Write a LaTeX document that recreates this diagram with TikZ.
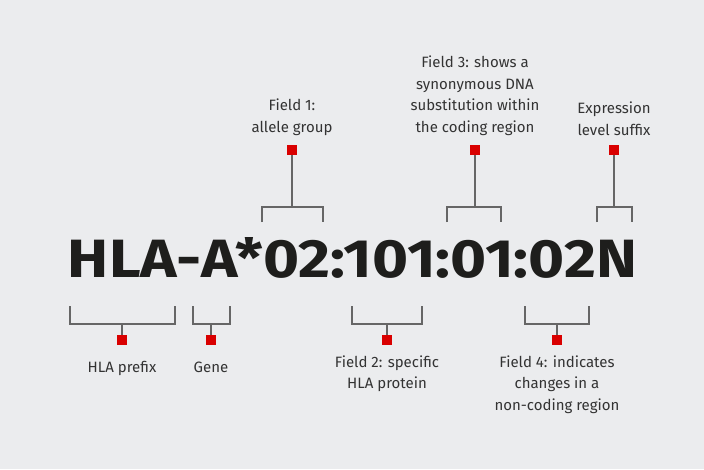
\documentclass[tikz,border=0pt]{standalone}
\usepackage{fontspec}
\setmainfont{Fira Sans}
\begin{document}
\begin{tikzpicture}[x=1pt,y=-1pt,
  br/.style={draw=black!60,line width=1.2pt},
  sq/.style={fill=red!85!black,minimum size=10pt,inner sep=0pt},
  lab/.style={font=\fontsize{15}{21.5}\selectfont,text=black!80,align=center}]
\fill[fill={rgb,255:red,235;green,236;blue,238}] (0,0) rectangle (704,469);
\useasboundingbox (0,0) rectangle (704,469);
\node[text={rgb,255:red,30;green,30;blue,28},inner sep=0pt,anchor=base] (main) at (352.5,277)
  {\resizebox{569pt}{40pt}{\fontsize{50}{50}\selectfont\bfseries HLA-A*02:101:01:02N}};
% top brackets
\foreach \n/\a/\b/\c in {f1/262/323/292, f3/447/501/475, sx/597/632/614}{
  \node[sq] (s\n) at (\c,150) {};
  \coordinate (m\n) at (\c,207);
  \draw[br] (s\n.south) -- (m\n);
  \draw[br] (\a,222) -- (\a,207) -- (\b,207) -- (\b,222);
}
\foreach \n/\a/\b/\c in {hp/70/175/122, ge/193/230/211, f2/352/422/387, f4/525/589/557}{
  \node[sq] (s\n) at (\c,340) {};
  \coordinate (m\n) at (\c,324);
  \draw[br] (s\n.north) -- (m\n);
  \draw[br] (\a,306) -- (\a,324) -- (\b,324) -- (\b,306);
}
\node[lab,anchor=south] (l1) at (292,139) {Field 1:\\allele group};
\node[lab,anchor=south] (l3) at (475,139) {Field 3: shows a\\synonymous DNA\\substitution within\\the coding region};
\node[lab,anchor=south] (lx) at (614,139) {Expression\\level suffix};
\node[lab,anchor=north] (lh) at (122,358) {HLA prefix};
\node[lab,anchor=north] (lg) at (211,358) {Gene};
\node[lab,anchor=north] (l2) at (387,352) {Field 2: specific\\HLA protein};
\node[lab,anchor=north] (l4) at (557,352) {Field 4: indicates\\changes in a\\non-coding region};
\end{tikzpicture}
\end{document}
